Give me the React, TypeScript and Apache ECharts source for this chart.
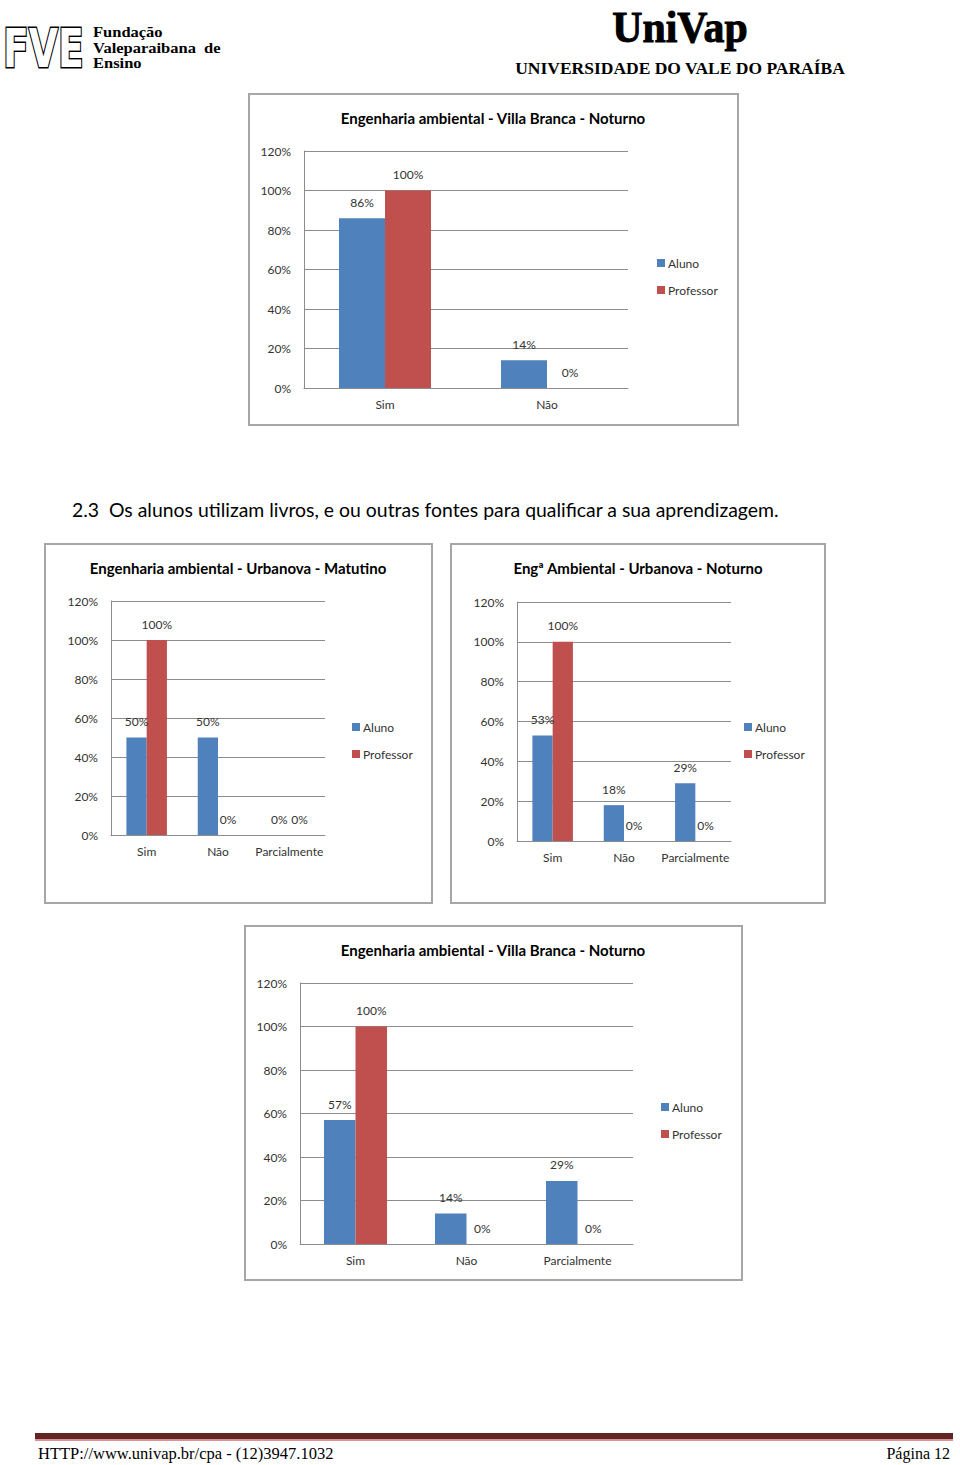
import React, { useEffect, useRef } from "react";
import * as echarts from "echarts";

const cats2 = ["Sim", "Não"];
const cats3 = ["Sim", "Não", "Parcialmente"];

const c1Aluno = [86, 14];
const c1Prof = [100, 0];
const c2Aluno = [50, 50, 0];
const c2Prof = [100, 0, 0];
const c3Aluno = [53, 18, 29];
const c3Prof = [100, 0, 0];
const c4Aluno = [57, 14, 29];
const c4Prof = [100, 0, 0];

const seriesNames = ["Aluno", "Professor"];
const titles = [
  "Engenharia ambiental - Villa Branca - Noturno",
  "Engenharia ambiental - Urbanova - Matutino",
  "Engª Ambiental - Urbanova - Noturno",
  "Engenharia ambiental - Villa Branca - Noturno",
];
const yMin = 0;
const yMax = 120;
const yStep = 20;

const BLUE = "#4F81BD";
const RED = "#C0504D";
const FONT = 'Lato, "Noto Sans", sans-serif';
const SERIF = '"Liberation Serif", "DejaVu Serif", serif';

export default function App() {
  const ref = useRef<HTMLDivElement>(null);
  useEffect(() => {
    if (!ref.current) return;
    const chart = echarts.init(ref.current, null, { renderer: "svg" });

    const charts = [
      { cats: cats2, a: c1Aluno, p: c1Prof, grid: { left: 304, top: 151, width: 324, height: 237 }, legend: { left: 657, top: 257 }, box: [249, 94, 489, 331], titleX: 493, titleY: 118 },
      { cats: cats3, a: c2Aluno, p: c2Prof, grid: { left: 111, top: 601, width: 214, height: 234 }, legend: { left: 352, top: 721 }, box: [45, 544, 387, 359], titleX: 238, titleY: 568 },
      { cats: cats3, a: c3Aluno, p: c3Prof, grid: { left: 517, top: 602, width: 214, height: 239 }, legend: { left: 744, top: 721 }, box: [451, 544, 374, 359], titleX: 638, titleY: 568 },
      { cats: cats3, a: c4Aluno, p: c4Prof, grid: { left: 300, top: 983, width: 333, height: 261 }, legend: { left: 661, top: 1101 }, box: [245, 926, 497, 354], titleX: 493, titleY: 950 },
    ];

    const grids: any[] = [];
    const xAxes: any[] = [];
    const yAxes: any[] = [];
    const series: any[] = [];
    const legends: any[] = [];
    const graphics: any[] = [];

    const label = {
      show: true,
      position: "top",
      distance: 10,
      formatter: "{c}%",
      fontSize: 12,
      color: "#333",
      fontFamily: FONT,
    };

    charts.forEach((c, i) => {
      graphics.push({
        type: "rect",
        z: -10,
        shape: { x: c.box[0], y: c.box[1], width: c.box[2], height: c.box[3] },
        style: { fill: "#fff", stroke: "#a6a6a6", lineWidth: 2 },
      });
      graphics.push({
        type: "text",
        x: c.titleX,
        y: c.titleY,
        style: {
          text: titles[i],
          fontSize: 15,
          fontWeight: "bold",
          fontFamily: FONT,
          fill: "#000",
          align: "center",
          verticalAlign: "middle",
          textAlign: "center",
          textVerticalAlign: "middle",
        },
      });
      grids.push({ ...c.grid, containLabel: false });
      xAxes.push({
        type: "category",
        gridIndex: i,
        data: c.cats,
        axisTick: { show: false },
        axisLine: { show: true, lineStyle: { color: "#8c8c8c", width: 1 } },
        axisLabel: { fontSize: 12, color: "#333", fontFamily: FONT, margin: 10, interval: 0, hideOverlap: false },
      });
      yAxes.push({
        type: "value",
        gridIndex: i,
        min: yMin,
        max: yMax,
        interval: yStep,
        axisLine: { show: true, lineStyle: { color: "#8c8c8c", width: 1 } },
        axisTick: { show: false },
        splitLine: { show: true, lineStyle: { color: "#8c8c8c", width: 1 } },
        axisLabel: { fontSize: 12, color: "#333", fontFamily: FONT, margin: 13, formatter: "{value}%" },
      });
      series.push({
        type: "bar",
        name: seriesNames[0],
        xAxisIndex: i,
        yAxisIndex: i,
        data: c.a,
        barWidth: "28.4%",
        barGap: "0%",
        itemStyle: { color: BLUE },
        label,
      });
      series.push({
        type: "bar",
        name: seriesNames[1],
        xAxisIndex: i,
        yAxisIndex: i,
        data: c.p,
        barWidth: "28.4%",
        barGap: "0%",
        itemStyle: { color: RED },
        label,
      });
      legends.push({
        left: c.legend.left,
        top: c.legend.top,
        orient: "vertical",
        padding: 0,
        itemWidth: 8,
        itemHeight: 8,
        itemGap: 15,
        icon: "rect",
        data: seriesNames,
        textStyle: { fontSize: 12, color: "#333", fontFamily: FONT, padding: [0, 0, 0, -2] },
      });
    });

    // Header
    graphics.push({
      type: "text",
      x: 3,
      y: 48,
      scaleX: 0.7,
      style: {
        text: "FVE",
        font: 'bold 54px "DejaVu Sans", sans-serif',
        fill: "#fff",
        stroke: "#000",
        lineWidth: 3,
        align: "left",
        verticalAlign: "middle",
        textAlign: "left",
        textVerticalAlign: "middle",
      },
    });
    const hdr = [
      ["Fundação", 32],
      ["Valeparaibana  de", 48],
      ["Ensino", 63],
    ];
    hdr.forEach(([t, y]) => {
      graphics.push({
        type: "text",
        x: 93,
        y: y as number,
        scaleX: 1.1,
        style: {
          text: t,
          font: `bold 15px ${SERIF}`,
          fill: "#000",
          align: "left",
          verticalAlign: "middle",
          textAlign: "left",
          textVerticalAlign: "middle",
        },
      });
    });
    graphics.push({
      type: "text",
      x: 680,
      y: 27,
      scaleX: 0.95,
      style: {
        text: "UniVap",
        font: `bold 44px ${SERIF}`,
        fill: "#000",
        stroke: "#000",
        lineWidth: 1,
        align: "center",
        verticalAlign: "middle",
        textAlign: "center",
        textVerticalAlign: "middle",
      },
    });
    graphics.push({
      type: "text",
      x: 680,
      y: 68,
      style: {
        text: "UNIVERSIDADE DO VALE DO PARAÍBA",
        font: `bold 17.5px ${SERIF}`,
        fill: "#000",
        align: "center",
        verticalAlign: "middle",
        textAlign: "center",
        textVerticalAlign: "middle",
      },
    });
    graphics.push({
      type: "text",
      x: 72,
      y: 509,
      style: {
        text: "2.3  Os alunos utilizam livros, e ou outras fontes para qualificar a sua aprendizagem.",
        font: `19.4px ${FONT}`,
        fill: "#000",
        align: "left",
        verticalAlign: "middle",
        textAlign: "left",
        textVerticalAlign: "middle",
      },
    });

    // Footer
    graphics.push({ type: "rect", shape: { x: 35, y: 1433, width: 918, height: 6 }, style: { fill: "#632523" } });
    graphics.push({ type: "rect", shape: { x: 35, y: 1439, width: 918, height: 2 }, style: { fill: "#d99594" } });
    graphics.push({
      type: "text",
      x: 38,
      y: 1453,
      style: {
        text: "HTTP://www.univap.br/cpa - (12)3947.1032",
        font: `16.5px ${SERIF}`,
        fill: "#000",
        align: "left",
        verticalAlign: "middle",
        textAlign: "left",
        textVerticalAlign: "middle",
      },
    });
    graphics.push({
      type: "text",
      x: 950,
      y: 1453,
      style: {
        text: "Página 12",
        font: `16px ${SERIF}`,
        fill: "#000",
        align: "right",
        verticalAlign: "middle",
        textAlign: "right",
        textVerticalAlign: "middle",
      },
    });

    chart.setOption({
      animation: false,
      backgroundColor: "#fff",
      grid: grids,
      xAxis: xAxes,
      yAxis: yAxes,
      series,
      legend: legends,
      graphic: graphics,
    });
    return () => chart.dispose();
  }, []);

  return (
    <div
      ref={ref}
      style={{ position: "absolute", left: 0, top: 0, width: 960, height: 1465, background: "#fff" }}
    />
  );
}
